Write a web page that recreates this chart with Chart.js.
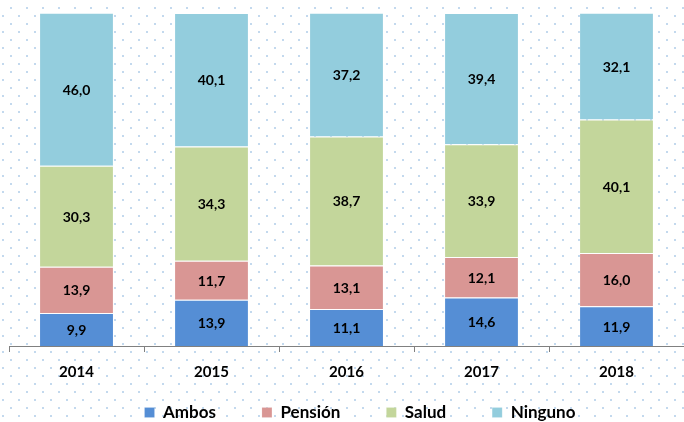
<!DOCTYPE html>
<html><head><meta charset="utf-8">
<script src="https://cdn.jsdelivr.net/npm/chart.js@4"></script>
<style>html,body{margin:0;padding:0;background:#fff}#wrap{width:684px;height:422px}</style>
</head><body><div id="wrap"><canvas id="c"></canvas></div>
<script>
const categories = ['2014','2015','2016','2017','2018'];
const ambos   = [9.9, 13.9, 11.1, 14.6, 11.9];
const pension = [13.9, 11.7, 13.1, 12.1, 16.0];
const salud   = [30.3, 34.3, 38.7, 33.9, 40.1];
const ninguno = [46.0, 40.1, 37.2, 39.4, 32.1];
const seriesNames = ['Ambos','Pensión','Salud','Ninguno'];
const colors = ['#558ED5','#D99694','#C3D69B','#93CDDD'];
const FONT = 'Lato, "Open Sans", sans-serif';

const bgDots = {
  id:'bgDots',
  beforeDraw(chart){
    const ctx = chart.ctx; ctx.save();
    ctx.fillStyle = '#fff'; ctx.fillRect(0,0,chart.width,chart.height);
    ctx.fillStyle = '#c3d9ee';
    let r = 0;
    for (let y = 7; y < chart.height; y += 8, r++) {
      for (let x = (r%2 ? 2 : 10); x < chart.width; x += 16) ctx.fillRect(x, y, 2, 2);
    }
    ctx.restore();
  }
};
const legendShift = {
  id:'legendShift',
  afterLayout(chart){ const lg = chart.legend; if (lg) { lg.left += 10; lg.right += 10; } }
};
const labelsPlugin = {
  id:'segLabels',
  afterDatasetsDraw(chart){
    const ctx = chart.ctx; ctx.save();
    ctx.font = 'bold 14px ' + FONT; ctx.fillStyle = '#000';
    ctx.textAlign = 'center'; ctx.textBaseline = 'middle';
    chart.data.datasets.forEach((ds, i) => {
      chart.getDatasetMeta(i).data.forEach((bar, j) => {
        const y = (bar.y + bar.base) / 2;
        ctx.fillText(ds.data[j].toFixed(1).replace('.', ','), bar.x, y + 1);
      });
    });
    ctx.restore();
  }
};
const allSeries = [ambos, pension, salud, ninguno];
new Chart(document.getElementById('c'), {
  type:'bar',
  data:{ labels: categories,
    datasets: allSeries.map((d,i)=>({label: seriesNames[i], data: d, backgroundColor: colors[i],
      borderColor:'rgba(255,255,255,0.6)', borderWidth:{top:1,left:0,right:0,bottom:0}, borderSkipped:false,
      categoryPercentage:0.54, barPercentage:1}))},
  options:{
    responsive:true, maintainAspectRatio:false, animation:false,
    layout:{padding:{left:9, right:-7, top:13, bottom:-9}},
    plugins:{
      legend:{position:'bottom', labels:{boxWidth:10, boxHeight:10, padding:46,
        font:{family:FONT, size:17, weight:'bold'}, color:'#000'}},
      tooltip:{enabled:false}
    },
    scales:{
      x:{stacked:true, offset:true,
        afterFit(scale){ scale.height = 12; },
        grid:{offset:true, drawOnChartArea:false, drawTicks:true, tickLength:6, color:'#808080'},
        border:{display:true, color:'#808080', width:1},
        ticks:{mirror:true, padding:-35.5, font:{family:FONT, size:15, weight:'bold'}, color:'#000'}},
      y:{stacked:true, min:0, max:100, display:false}
    }
  },
  plugins:[bgDots, legendShift, labelsPlugin]
});
</script></body></html>
